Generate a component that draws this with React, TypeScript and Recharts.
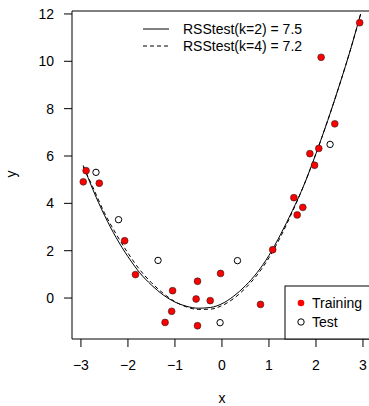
import React from 'react';
import { ComposedChart, XAxis, YAxis, Line, Scatter } from 'recharts';

// Training points
const trainX = [-2.95, -2.89, -2.61, -2.07, -1.84, -1.05, -1.07, -1.21, -0.52, -0.55, -0.25, -0.52, -0.03, 0.82, 1.08, 1.53, 1.60, 1.72, 1.87, 1.97, 2.06, 2.11, 2.40, 2.93];
const trainY = [4.91, 5.38, 4.85, 2.42, 0.99, 0.31, -0.56, -1.03, 0.71, -0.04, -0.11, -1.17, 1.04, -0.27, 2.04, 4.24, 3.51, 3.83, 6.10, 5.61, 6.32, 10.17, 7.36, 11.63];

// Test points
const testX = [-2.68, -2.20, -1.36, -0.04, 0.33, 2.30];
const testY = [5.31, 3.31, 1.59, -1.04, 1.58, 6.49];

// Fitted curves
const curveX = [-2.95, -2.75, -2.5, -2.25, -2.0, -1.75, -1.5, -1.25, -1.0, -0.75, -0.5, -0.25, 0.0, 0.25, 0.5, 0.75, 1.0, 1.25, 1.5, 1.75, 2.0, 2.25, 2.5, 2.75, 2.95];
const fitK2 = [5.6, 4.6, 3.5, 2.55, 1.75, 1.07, 0.55, 0.13, -0.17, -0.35, -0.43, -0.40, -0.24, 0.08, 0.52, 1.08, 1.8, 2.7, 3.7, 4.8, 6.1, 7.5, 9.0, 10.6, 12.0];
const fitK4 = [5.55, 4.7, 3.6, 2.7, 1.9, 1.2, 0.65, 0.2, -0.15, -0.38, -0.48, -0.47, -0.32, -0.02, 0.42, 0.98, 1.7, 2.6, 3.65, 4.8, 6.1, 7.5, 9.0, 10.6, 12.0];

const xTicks = [-3, -2, -1, 0, 1, 2, 3];
const yTicks = [0, 2, 4, 6, 8, 10, 12];

const legendTop = ['RSStest(k=2) = 7.5', 'RSStest(k=4) = 7.2'];
const legendBottom = ['Training', 'Test'];

const trainData = trainX.map((x, i) => ({ x, y: trainY[i] }));
const testData = testX.map((x, i) => ({ x, y: testY[i] }));
const k2Data = curveX.map((x, i) => ({ x, y: fitK2[i] }));
const k4Data = curveX.map((x, i) => ({ x, y: fitK4[i] }));

const FONT = '"Liberation Sans", Arial, Helvetica, sans-serif';

if (typeof document !== 'undefined') {
  document.body.style.margin = '0';
  document.body.style.overflow = 'hidden';
}

const RedDot = (p: any) => (
  <circle cx={p.cx} cy={p.cy} r={3.4} fill="#ff0000" stroke="#222" strokeWidth={0.6} />
);
const OpenDot = (p: any) => (
  <circle cx={p.cx} cy={p.cy} r={3.2} fill="none" stroke="#000" strokeWidth={1} />
);

export default function App() {
  return (
    <div style={{ position: 'relative', width: 369, height: 406, fontFamily: FONT }}>
      <ComposedChart
        width={369}
        height={406}
        margin={{ top: 11, right: 0, bottom: 0, left: 0 }}
      >
        <XAxis
          type="number"
          dataKey="x"
          domain={[-3.19, 3.128]}
          allowDataOverflow
          ticks={xTicks}
          height={67}
          tickSize={8}
          tickMargin={13}
          stroke="#000"
          tick={{ fill: '#000', fontSize: 14, fontFamily: FONT }}
          tickFormatter={(v: number) => (v < 0 ? '\u2212' + Math.abs(v) : String(v))}
        />
        <YAxis
          type="number"
          dataKey="y"
          domain={[-1.73, 12.125]}
          allowDataOverflow
          ticks={yTicks}
          width={72}
          tickSize={8}
          tickMargin={10}
          stroke="#000"
          tick={{ fill: '#000', fontSize: 14, fontFamily: FONT }}
        />
        <Line data={k4Data} dataKey="y" type="monotone" stroke="#000" strokeWidth={1} strokeDasharray="4 3" dot={false} isAnimationActive={false} />
        <Line data={k2Data} dataKey="y" type="monotone" stroke="#000" strokeWidth={1} dot={false} isAnimationActive={false} />
        <Scatter data={testData} dataKey="y" shape={OpenDot} isAnimationActive={false} />
        <Scatter data={trainData} dataKey="y" shape={RedDot} isAnimationActive={false} />
      </ComposedChart>
      <svg
        width={369}
        height={406}
        style={{ position: 'absolute', left: 0, top: 0, pointerEvents: 'none' }}
        fontFamily={FONT}
      >
        <line x1={72} y1={11} x2={369} y2={11} stroke="#000" strokeWidth={1} />
        {/* top legend */}
        <line x1={143} y1={29} x2={169} y2={29} stroke="#000" strokeWidth={1} />
        <line x1={143} y1={46} x2={169} y2={46} stroke="#000" strokeWidth={1} strokeDasharray="4 3" />
        <text x={183} y={34} fontSize={14} fill="#000">{legendTop[0]}</text>
        <text x={183} y={51} fontSize={14} fill="#000">{legendTop[1]}</text>
        {/* bottom legend */}
        <rect x={285} y={286} width={100} height={53} fill="#fff" stroke="#000" strokeWidth={1} />
        <circle cx={301} cy={303} r={3.3} fill="#ff0000" />
        <circle cx={301} cy={322} r={3.2} fill="none" stroke="#000" strokeWidth={1} />
        <text x={312} y={308} fontSize={14} fill="#000">{legendBottom[0]}</text>
        <text x={312} y={327} fontSize={14} fill="#000">{legendBottom[1]}</text>
        {/* axis titles */}
        <text x={222} y={403} fontSize={14} fill="#000" textAnchor="middle">x</text>
        <text x={16} y={174} fontSize={14} fill="#000" textAnchor="middle" transform="rotate(-90, 16, 174)">y</text>
      </svg>
    </div>
  );
}
